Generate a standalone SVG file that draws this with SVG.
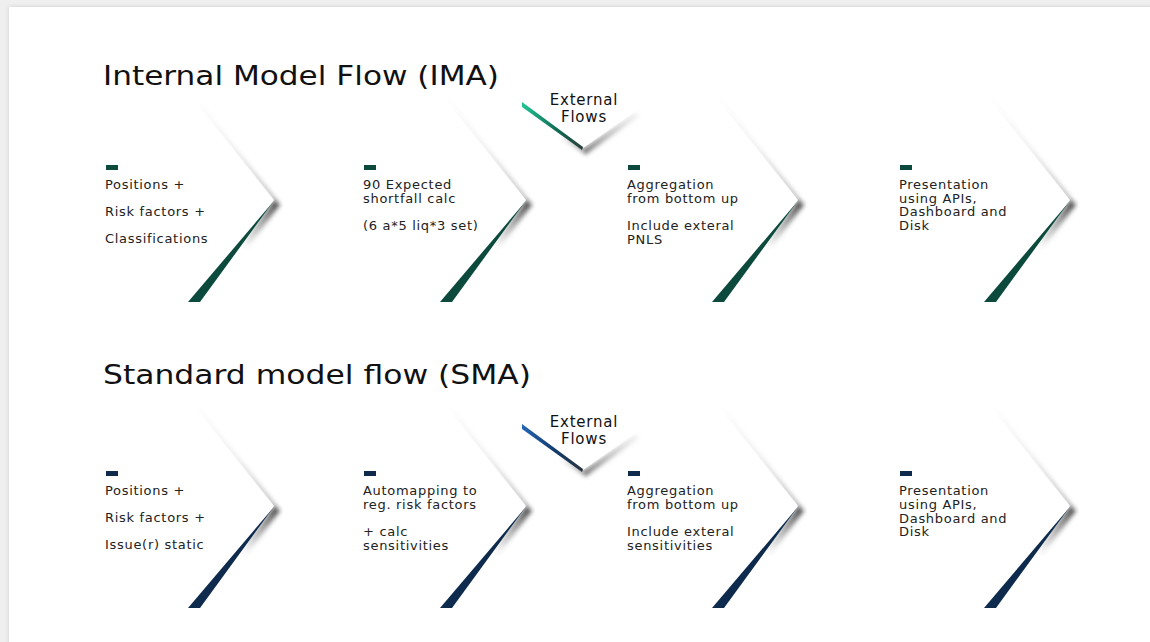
<svg xmlns="http://www.w3.org/2000/svg" xmlns:xlink="http://www.w3.org/1999/xlink" width="1150" height="642" viewBox="0 0 1150 642">
  <style>
    .title { font-family: "DejaVu Sans", "Liberation Sans", sans-serif; font-size: 26px; fill: #111; }
    .label { font-family: "DejaVu Sans", "Liberation Sans", sans-serif; font-size: 13px; letter-spacing: 0.7px; fill: #222; }
    .ext { font-family: "DejaVu Sans", "Liberation Sans", sans-serif; font-size: 15px; letter-spacing: 0.8px; fill: #111; text-anchor: middle; }
    .face { fill: #ffffff; }
    .soft { filter: url(#soft); }
    .green { fill: #0b4a3d; }
    .navy { fill: #0e2a4c; }
  </style>
  <defs>
    <filter id="soft" x="-50%" y="-50%" width="200%" height="200%">
      <feGaussianBlur stdDeviation="2"/>
    </filter>
    <filter id="cardShadow" x="-5%" y="-5%" width="110%" height="110%">
      <feGaussianBlur in="SourceAlpha" stdDeviation="2"/>
      <feComponentTransfer><feFuncA type="linear" slope="0.15"/></feComponentTransfer>
      <feMerge><feMergeNode/><feMergeNode in="SourceGraphic"/></feMerge>
    </filter>
    <!-- shadow along the upper edge: faint at the top, heavier at the tip -->
    <linearGradient id="edgeShade" x1="-80" y1="-100" x2="0" y2="0" gradientUnits="userSpaceOnUse">
      <stop offset="0" stop-color="#777" stop-opacity="0"/>
      <stop offset="0.5" stop-color="#777" stop-opacity="0.25"/>
      <stop offset="1" stop-color="#444" stop-opacity="0.8"/>
    </linearGradient>
    <!-- shadow below the tip, fading down the lower edge -->
    <linearGradient id="tipShade" x1="0" y1="0" x2="-34" y2="46" gradientUnits="userSpaceOnUse">
      <stop offset="0" stop-color="#333" stop-opacity="0.85"/>
      <stop offset="1" stop-color="#555" stop-opacity="0"/>
    </linearGradient>
    <linearGradient id="armShade" x1="0" y1="0" x2="54" y2="-36" gradientUnits="userSpaceOnUse">
      <stop offset="0" stop-color="#444" stop-opacity="0.7"/>
      <stop offset="1" stop-color="#888" stop-opacity="0.1"/>
    </linearGradient>
    <linearGradient id="tagTipShade" x1="-24" y1="-14" x2="0" y2="2" gradientUnits="userSpaceOnUse">
      <stop offset="0" stop-color="#555" stop-opacity="0"/>
      <stop offset="1" stop-color="#333" stop-opacity="0.7"/>
    </linearGradient>
    <linearGradient id="tealFade" x1="-61" y1="0" x2="0" y2="0" gradientUnits="userSpaceOnUse">
      <stop offset="0" stop-color="#22c596"/>
      <stop offset="0.55" stop-color="#0f6e57"/>
      <stop offset="1" stop-color="#2b3b37"/>
    </linearGradient>
    <linearGradient id="blueFade" x1="-61" y1="0" x2="0" y2="0" gradientUnits="userSpaceOnUse">
      <stop offset="0" stop-color="#2566b8"/>
      <stop offset="0.55" stop-color="#123a6a"/>
      <stop offset="1" stop-color="#2a3340"/>
    </linearGradient>
    <!-- right-pointing chevron body, tip at the origin -->
    <g id="chevBody">
      <polygon class="soft" fill="url(#edgeShade)" points="-80,-100 0,0 6,5 -77,-100"/>
      <polygon class="soft" fill="url(#tipShade)" points="0,0 6,5 -30,52 -34,46"/>
      <polygon class="face" points="-200,-100 -80,-100 0,0 -74,102 -200,102"/>
    </g>
    <!-- downward chevron body for the external flow tag, tip at the origin -->
    <g id="tagBody">
      <polygon class="soft" fill="url(#armShade)" points="0,1 53,-36 56,-32 2,7"/>
      <polygon class="soft" fill="url(#tagTipShade)" points="-24,-15 0,0 2,5 -20,-9"/>
      <polygon class="face" points="-62,-66 56,-66 53,-37 0,0 -61,-44"/>
    </g>
  </defs>

  <!-- page and card -->
  <rect x="0" y="0" width="1150" height="642" fill="#efefef"/>
  <rect x="9" y="7" width="1150" height="650" fill="#ffffff" filter="url(#cardShadow)"/>

  <!-- section titles -->
  <text class="title" x="103" y="85" textLength="396" lengthAdjust="spacingAndGlyphs">Internal Model Flow (IMA)</text>
  <text class="title" x="103" y="384" textLength="428" lengthAdjust="spacingAndGlyphs">Standard model flow (SMA)</text>

  <!-- IMA steps -->
  <g id="ima-positions">
    <use xlink:href="#chevBody" transform="translate(274,200)"/>
    <polygon class="green" transform="translate(274,200)" points="-1,2 -74,102 -86,102"/>
    <rect class="green" x="106" y="165" width="12" height="5"/>
    <text class="label" x="105" y="189">Positions +</text>
    <text class="label" x="105" y="216">Risk factors +</text>
    <text class="label" x="105" y="243">Classifications</text>
  </g>
  <g id="ima-shortfall">
    <use xlink:href="#chevBody" transform="translate(526,200)"/>
    <polygon class="green" transform="translate(526,200)" points="-1,2 -74,102 -86,102"/>
    <rect class="green" x="364" y="165" width="12" height="5"/>
    <text class="label" x="363" y="189">90 Expected</text>
    <text class="label" x="363" y="203">shortfall calc</text>
    <text class="label" x="363" y="230">(6 a*5 liq*3 set)</text>
  </g>
  <g id="ima-aggregation">
    <use xlink:href="#chevBody" transform="translate(798,200)"/>
    <polygon class="green" transform="translate(798,200)" points="-1,2 -74,102 -86,102"/>
    <rect class="green" x="628" y="165" width="12" height="5"/>
    <text class="label" x="627" y="189">Aggregation</text>
    <text class="label" x="627" y="203">from bottom up</text>
    <text class="label" x="627" y="230">Include exteral</text>
    <text class="label" x="627" y="244">PNLS</text>
  </g>
  <g id="ima-presentation">
    <use xlink:href="#chevBody" transform="translate(1070,200)"/>
    <polygon class="green" transform="translate(1070,200)" points="-1,2 -74,102 -86,102"/>
    <rect class="green" x="900" y="165" width="12" height="5"/>
    <text class="label" x="899" y="189">Presentation</text>
    <text class="label" x="899" y="203">using APIs,</text>
    <text class="label" x="899" y="216">Dashboard and</text>
    <text class="label" x="899" y="230">Disk</text>
  </g>
  <g id="ima-external">
    <use xlink:href="#tagBody" transform="translate(583,148)"/>
    <polygon fill="url(#tealFade)" transform="translate(583,148)" points="-61,-46 0,-1 -1,2 -61,-41"/>
    <text class="ext" x="584" y="105">External</text>
    <text class="ext" x="584" y="122">Flows</text>
  </g>

  <!-- SMA steps -->
  <g id="sma-positions">
    <use xlink:href="#chevBody" transform="translate(274,506)"/>
    <polygon class="navy" transform="translate(274,506)" points="-1,2 -74,102 -86,102"/>
    <rect class="navy" x="106" y="471" width="12" height="5"/>
    <text class="label" x="105" y="495">Positions +</text>
    <text class="label" x="105" y="522">Risk factors +</text>
    <text class="label" x="105" y="549">Issue(r) static</text>
  </g>
  <g id="sma-automapping">
    <use xlink:href="#chevBody" transform="translate(526,506)"/>
    <polygon class="navy" transform="translate(526,506)" points="-1,2 -74,102 -86,102"/>
    <rect class="navy" x="364" y="471" width="12" height="5"/>
    <text class="label" x="363" y="495">Automapping to</text>
    <text class="label" x="363" y="509">reg. risk factors</text>
    <text class="label" x="363" y="536">+ calc</text>
    <text class="label" x="363" y="550">sensitivities</text>
  </g>
  <g id="sma-aggregation">
    <use xlink:href="#chevBody" transform="translate(798,506)"/>
    <polygon class="navy" transform="translate(798,506)" points="-1,2 -74,102 -86,102"/>
    <rect class="navy" x="628" y="471" width="12" height="5"/>
    <text class="label" x="627" y="495">Aggregation</text>
    <text class="label" x="627" y="509">from bottom up</text>
    <text class="label" x="627" y="536">Include exteral</text>
    <text class="label" x="627" y="550">sensitivities</text>
  </g>
  <g id="sma-presentation">
    <use xlink:href="#chevBody" transform="translate(1070,506)"/>
    <polygon class="navy" transform="translate(1070,506)" points="-1,2 -74,102 -86,102"/>
    <rect class="navy" x="900" y="471" width="12" height="5"/>
    <text class="label" x="899" y="495">Presentation</text>
    <text class="label" x="899" y="509">using APIs,</text>
    <text class="label" x="899" y="523">Dashboard and</text>
    <text class="label" x="899" y="536">Disk</text>
  </g>
  <g id="sma-external">
    <use xlink:href="#tagBody" transform="translate(583,470)"/>
    <polygon fill="url(#blueFade)" transform="translate(583,470)" points="-61,-46 0,-1 -1,2 -61,-41"/>
    <text class="ext" x="584" y="427">External</text>
    <text class="ext" x="584" y="444">Flows</text>
  </g>

  <!-- no connectors between the steps -->
  <g id="connectors"/>
</svg>
